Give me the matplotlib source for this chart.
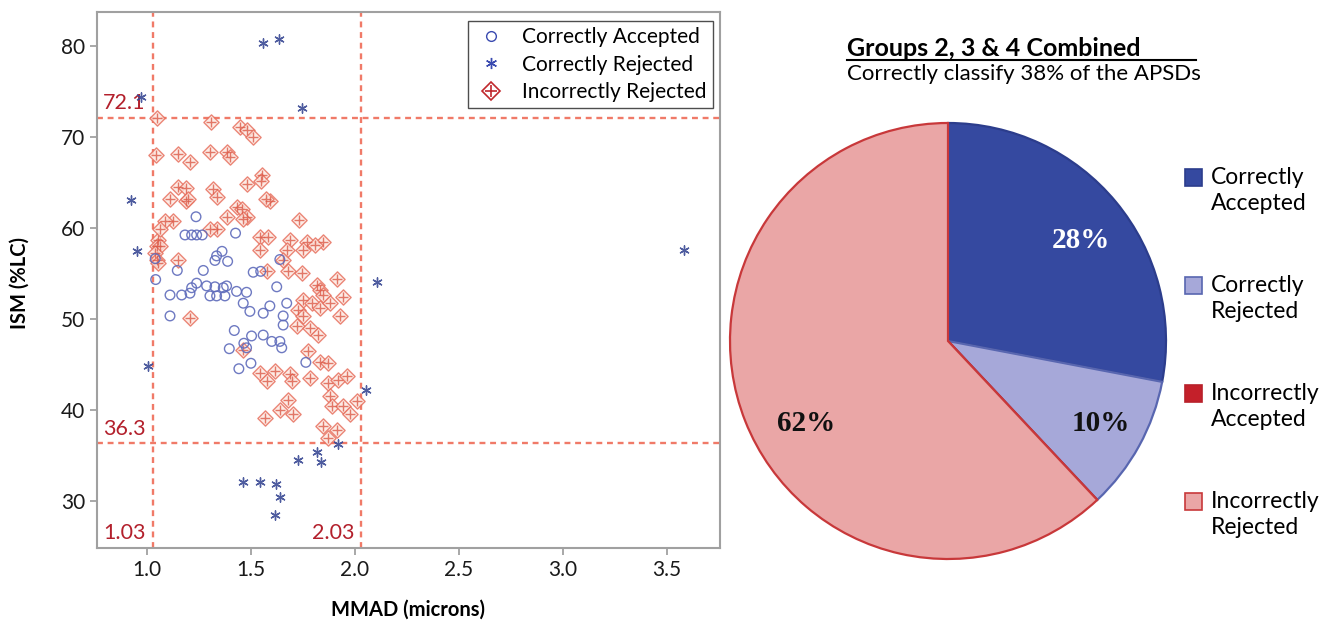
import matplotlib
matplotlib.use("Agg")
import matplotlib.pyplot as plt
from matplotlib.lines import Line2D
from matplotlib.patches import Rectangle
from matplotlib.legend_handler import HandlerTuple

plt.rcParams['font.family'] = ['Lato', 'DejaVu Sans']

# ---------------- data ----------------
acc_x = [1.236, 1.183, 1.215, 1.239, 1.266, 1.426, 1.361, 1.335, 1.327, 1.388,
         1.146, 1.271, 1.042, 1.040, 1.511, 1.547, 1.239, 1.215, 1.207, 1.167,
         1.111, 1.287, 1.327, 1.367, 1.383, 1.431, 1.479, 1.303, 1.335, 1.375,
         1.463, 1.495, 1.559, 1.591, 1.624, 1.672, 1.655, 1.655, 1.639, 1.111,
         1.420, 1.503, 1.559, 1.600, 1.639, 1.648, 1.466, 1.479, 1.396, 1.442,
         1.500, 1.764]
acc_y = [61.2, 59.2, 59.2, 59.2, 59.2, 59.4, 57.4, 56.9, 56.4, 56.3,
         55.3, 55.3, 54.3, 56.6, 55.1, 55.2, 53.9, 53.4, 52.8, 52.6,
         52.6, 53.6, 53.5, 53.4, 53.6, 53.0, 52.9, 52.5, 52.5, 52.5,
         51.7, 50.8, 50.6, 51.4, 53.5, 51.7, 50.3, 49.3, 56.5, 50.3,
         48.7, 48.1, 48.2, 47.5, 47.5, 46.8, 47.3, 46.8, 46.7, 44.5,
         45.1, 45.2]

rej_x = [1.558, 1.635, 0.971, 1.745, 0.923, 0.952, 1.005, 2.106, 2.053, 3.582,
         1.726, 1.817, 1.837, 1.462, 1.543, 1.620, 1.639, 1.615, 1.918]
rej_y = [80.3, 80.7, 74.4, 73.2, 63.0, 57.4, 44.8, 54.0, 42.2, 57.5,
         34.5, 35.4, 34.3, 32.1, 32.1, 31.8, 30.4, 28.4, 36.2]

inc_x = [1.047, 1.306, 1.447, 1.479, 1.511, 1.042, 1.150, 1.207, 1.303, 1.386,
         1.399, 1.479, 1.551, 1.547, 1.150, 1.186, 1.186, 1.111, 1.199, 1.319,
         1.335, 1.591, 1.571, 1.431, 1.455, 1.479, 1.463, 1.383, 1.335, 1.303,
         1.732, 1.543, 1.583, 1.688, 1.768, 1.848, 1.054, 1.047, 1.126, 1.087,
         1.063, 1.063, 1.038, 1.047, 1.054, 1.150, 1.207, 1.543, 1.575, 1.672,
         1.655, 1.751, 1.808, 1.679, 1.744, 1.912, 1.816, 1.832, 1.848, 1.751,
         1.792, 1.832, 1.880, 1.944, 1.727, 1.751, 1.928, 1.720, 1.784, 1.824,
         1.776, 1.832, 1.872, 1.543, 1.615, 1.575, 1.688, 1.696, 1.784, 1.872,
         1.920, 1.960, 1.679, 1.639, 1.567, 1.703, 1.880, 1.888, 1.944, 1.976,
         2.008, 1.848, 1.912, 1.872, 1.463]
inc_y = [72.1, 71.6, 71.1, 70.7, 70.0, 68.0, 68.1, 67.2, 68.3, 68.3,
         67.8, 64.8, 65.8, 65.1, 64.5, 64.4, 62.9, 63.1, 63.1, 64.2,
         63.4, 62.9, 63.1, 62.3, 62.0, 61.2, 60.9, 61.2, 59.8, 59.8,
         60.8, 59.0, 59.0, 58.7, 58.4, 58.4, 58.7, 58.0, 60.7, 60.7,
         59.8, 58.0, 57.2, 56.5, 56.1, 56.5, 50.1, 57.6, 55.2, 57.6,
         56.5, 57.6, 58.1, 55.2, 55.0, 54.4, 53.7, 53.2, 52.6, 52.1,
         51.7, 51.2, 51.7, 52.4, 51.0, 50.3, 50.3, 49.2, 49.0, 48.2,
         46.4, 45.2, 45.1, 44.0, 44.2, 43.1, 43.9, 43.1, 43.5, 42.9,
         43.3, 43.7, 41.1, 40.0, 39.1, 39.5, 41.5, 40.4, 40.4, 39.5,
         40.9, 38.2, 37.8, 36.9, 46.6]

limit_ism = [72.1, 36.3]
limit_mmad = [1.03, 2.03]

x_ticks = [1.0, 1.5, 2.0, 2.5, 3.0, 3.5]
y_ticks = [30, 40, 50, 60, 70, 80]

pie_labels = ['Correctly\nAccepted', 'Correctly\nRejected',
              'Incorrectly\nAccepted', 'Incorrectly\nRejected']
pie_values = [28, 10, 0, 62]
pie_fill = ['#3549a0', '#a6a8d9', '#c4202a', '#eaa6a6']
pie_edge = ['#2c3d8c', '#5866b0', '#b8202a', '#c8383a']

# ---------------- figure ----------------
fig = plt.figure(figsize=(13.32, 6.24), dpi=100)

ax = fig.add_axes([97/1332, 1-548/624, 623/1332, 536/624])
ax.set_xlim(0.76, 3.755)
ax.set_ylim(24.8, 83.7)

red_edge = '#e66a58'
ax.scatter(inc_x, inc_y, marker='D', s=60, facecolors='#fde6df',
           edgecolors=red_edge, linewidths=1.0, alpha=0.8, zorder=3)
ax.scatter(inc_x, inc_y, marker='+', s=60, c='#dc5a48',
           linewidths=1.0, alpha=0.8, zorder=4)
ax.scatter(acc_x, acc_y, marker='o', s=48, facecolors='none',
           edgecolors='#5e6bbb', linewidths=1.0, alpha=0.9, zorder=5)
ax.scatter(rej_x, rej_y, marker=(6, 2, 0), s=45, c='#3b4a95',
           linewidths=1.0, alpha=0.9, zorder=6)

dash_col = '#f07a68'
for v in limit_ism:
    ax.axhline(v, color=dash_col, lw=1.7, ls=(0, (2.5, 2)), zorder=2)
for v in limit_mmad:
    ax.axvline(v, color=dash_col, lw=1.7, ls=(0, (2.5, 2)), zorder=2)

lab_col = '#b3202c'
ax.text(0.788, limit_ism[0] + 0.5, '72.1', color=lab_col, fontsize=15.5,
        ha='left', va='bottom')
ax.text(0.788, limit_ism[1] + 0.5, '36.3', color=lab_col, fontsize=15.5,
        ha='left', va='bottom')
ax.text(0.788, 25.4, '1.03', color=lab_col, fontsize=15.5, ha='left', va='bottom')
ax.text(1.795, 25.4, '2.03', color=lab_col, fontsize=15.5, ha='left', va='bottom')

ax.set_xticks(x_ticks)
ax.set_xticklabels([f'{t:.1f}' for t in x_ticks])
ax.set_yticks(y_ticks)
ax.tick_params(axis='both', labelsize=15, color='#999999', length=5,
               width=1.2, labelcolor='#1a1a1a')
for s in ax.spines.values():
    s.set_color('#a0a0a0')
    s.set_linewidth(1.5)

fig.text(20/1332, 1-283/624, 'ISM (%LC)', rotation=90, fontsize=14.5,
         fontweight='bold', ha='center', va='center')
fig.text(408/1332, 1-610/624, 'MMAD (microns)', fontsize=14.5,
         fontweight='bold', ha='center', va='center')

h_acc = Line2D([], [], marker='o', ls='none', markersize=7,
               markerfacecolor='none', markeredgecolor='#3a4ab0', markeredgewidth=1.0)
h_rej = Line2D([], [], marker=(6, 2, 0), ls='none', markersize=8,
               color='#3a4ab0', markeredgewidth=1.0)
h_inc1 = Line2D([], [], marker='D', ls='none', markersize=9,
                markerfacecolor='none', markeredgecolor='#c0282d', markeredgewidth=1.2)
h_inc2 = Line2D([], [], marker='+', ls='none', markersize=9,
                color='#c0282d', markeredgewidth=1.2)
leg = ax.legend([h_acc, h_rej, (h_inc1, h_inc2)],
                ['Correctly Accepted', 'Correctly Rejected', 'Incorrectly Rejected'],
                handler_map={tuple: HandlerTuple(ndivide=1, pad=0)},
                loc='upper right', bbox_to_anchor=(0.988, 0.983), fontsize=15,
                frameon=True, fancybox=False, edgecolor='#222222',
                borderpad=0.3, labelspacing=0.35, handletextpad=0.7,
                handlelength=1.6, borderaxespad=0)
leg.get_frame().set_linewidth(1.0)

# ---------------- pie ----------------
pax = fig.add_axes([730/1332, 1-559/624, 436/1332, 436/624])
wedges, _ = pax.pie(pie_values, colors=pie_fill, startangle=90,
                    counterclock=False, radius=1.0,
                    wedgeprops=dict(linewidth=1.6))
for w, ec in zip(wedges, pie_edge):
    w.set_edgecolor(ec)
pax.set_xlim(-1.0, 1.0)
pax.set_ylim(-1.0, 1.0)
pax.set_aspect('equal')
pax.axis('off')

pct_font = dict(family=['Liberation Serif', 'DejaVu Serif'], fontsize=21,
                fontweight='bold')
pax.text(0.61, 0.46, f'{pie_values[0]}%', color='white', ha='center',
         va='center', **pct_font)
pax.text(0.70, -0.38, f'{pie_values[1]}%', color='#111111', ha='center',
         va='center', **pct_font)
pax.text(-0.65, -0.38, f'{pie_values[3]}%', color='#111111', ha='center',
         va='center', **pct_font)

fig.text(847/1332, 1-56/624, 'Groups 2, 3 & 4 Combined', fontsize=18,
         fontweight='bold', ha='left', va='baseline')
fig.add_artist(Line2D([847/1332, 1196/1332], [1-60/624, 1-60/624],
                      color='black', lw=1.5))
fig.text(847/1332, 1-80/624, 'Correctly classify 38% of the APSDs',
         fontsize=16, ha='left', va='baseline')

for i, lab in enumerate(pie_labels):
    yc = 177 + i * 108
    fig.add_artist(Rectangle(((1185)/1332, 1-(yc+9)/624), 17/1332, 17/624,
                             facecolor=pie_fill[i], edgecolor=pie_edge[i],
                             lw=1.2, transform=fig.transFigure))
    fig.text(1211/1332, 1-(yc-10)/624, lab, fontsize=16.5, ha='left',
             va='top', linespacing=1.32)

fig.savefig('out.png', dpi=100)
